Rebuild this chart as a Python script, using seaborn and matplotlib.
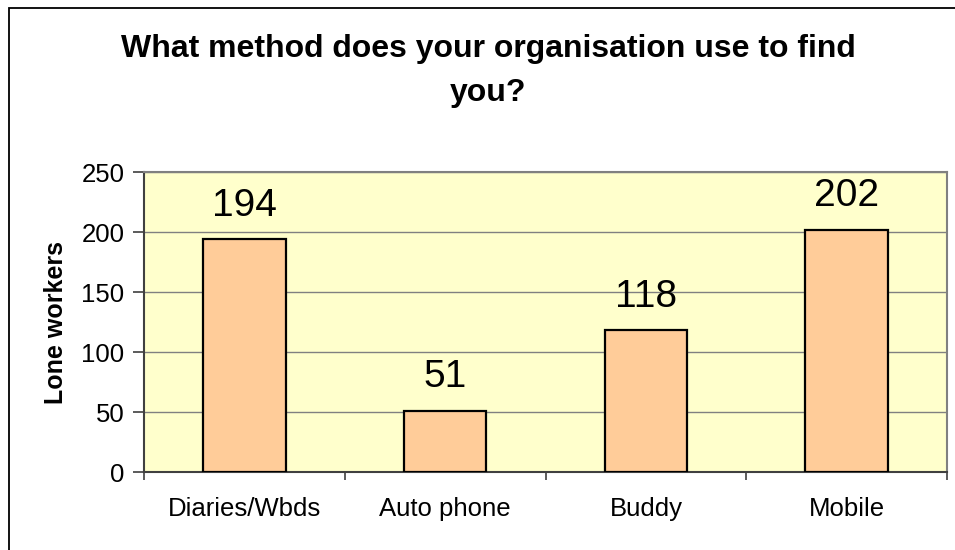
import matplotlib
matplotlib.use("Agg")
import matplotlib.pyplot as plt
from matplotlib.patches import Rectangle
import seaborn as sns
import pandas as pd

categories = ["Diaries/Wbds", "Auto phone", "Buddy", "Mobile"]
values = [194, 51, 118, 202]
y_ticks = [0, 50, 100, 150, 200, 250]

title = "What method does your organisation use to find\nyou?"
y_label = "Lone workers"

sns.set_theme(style="white")
plt.rcParams["font.family"] = ["Liberation Sans", "DejaVu Sans"]
plt.rcParams["text.color"] = "black"
plt.rcParams["xtick.color"] = "black"
plt.rcParams["ytick.color"] = "black"
plt.rcParams["axes.labelcolor"] = "black"

fig = plt.figure(figsize=(9.55, 5.5), dpi=100)
fig.patch.set_facecolor("white")
ax = fig.add_axes([144 / 955, 78 / 550, 803 / 955, 300 / 550])
ax.set_facecolor("#FFFFCC")

df = pd.DataFrame({"method": categories, "count": values})
sns.barplot(data=df, x="method", y="count", color="#FFCC99", saturation=1,
            edgecolor="black", linewidth=1.6, width=0.41, ax=ax, zorder=3)

ax.set_ylim(0, 250)
ax.set_xlim(-0.5, len(categories) - 0.5)
ax.set_yticks(y_ticks)
ax.yaxis.grid(True, color="#808080", linewidth=1.0, zorder=0)
ax.set_axisbelow(True)

for bar, v in zip(ax.patches, values):
    ax.annotate(f"{v}", (bar.get_x() + bar.get_width() / 2, v),
                xytext=(0, 24), textcoords="offset points",
                ha="center", va="center", fontsize=28, color="black")

# category boundary ticks on the x axis
ax.set_xticks([i - 0.5 for i in range(len(categories) + 1)], minor=True)
ax.set_xticks(range(len(categories)))
ax.set_xticklabels(categories, fontsize=18.5)
ax.tick_params(axis="x", which="major", length=0, pad=18)
ax.tick_params(axis="x", which="minor", length=6, width=1.2, color="#404040",
               direction="out", bottom=True)
ax.tick_params(axis="y", length=8, width=1.2, color="#404040", direction="out",
               left=True, pad=6, labelsize=18.5, labelcolor="black")

for side in ["top", "right"]:
    ax.spines[side].set_color("#808080")
    ax.spines[side].set_linewidth(1.5)
for side in ["left", "bottom"]:
    ax.spines[side].set_color("#404040")
    ax.spines[side].set_linewidth(1.5)

ax.set_xlabel("")
ax.set_ylabel(y_label, fontsize=18, fontweight="bold", labelpad=10, color="black")

fig.text(488 / 955, 1 - 71 / 550, title, ha="center", va="center",
         fontsize=23, fontweight="bold", linespacing=1.6, color="black")

frame = Rectangle((9 / 955, -0.1), 1.5, 1 - 8 / 550 + 0.1,
                  transform=fig.transFigure, fill=False,
                  edgecolor="black", linewidth=1.3, clip_on=False)
fig.patches.append(frame)

fig.savefig("out.png", dpi=100)
